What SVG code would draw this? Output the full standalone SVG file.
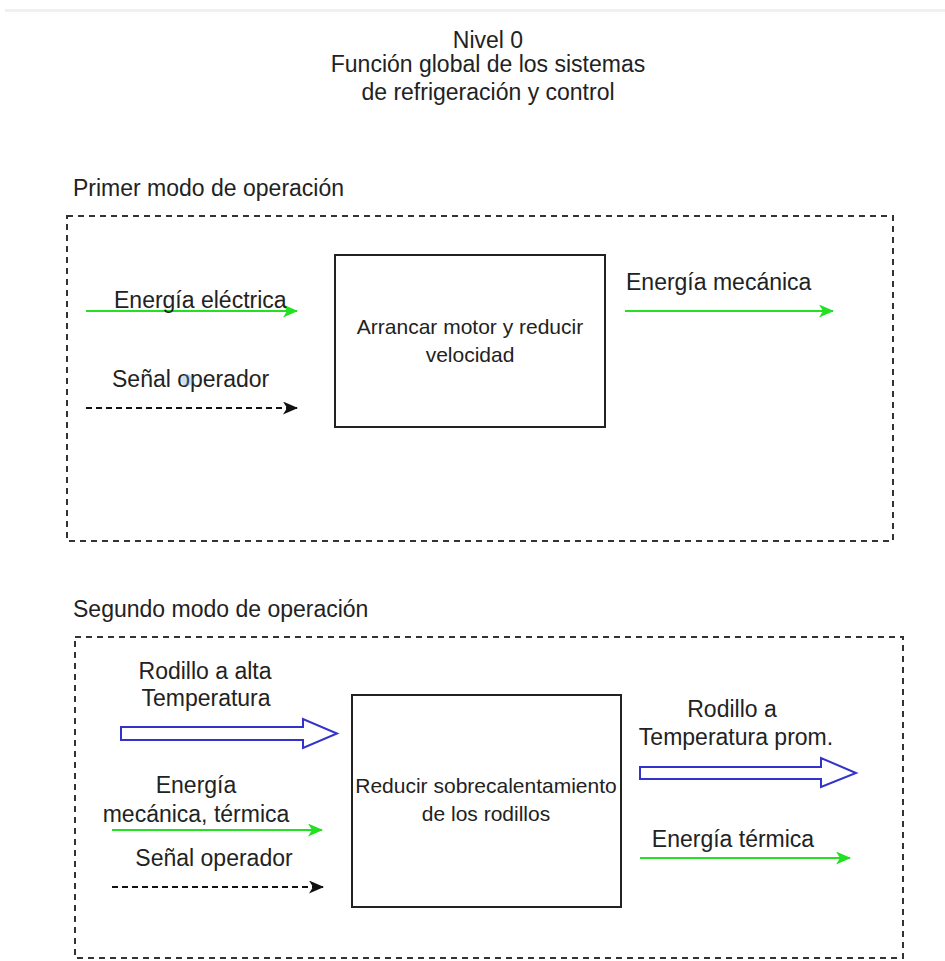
<svg xmlns="http://www.w3.org/2000/svg" width="945" height="961" viewBox="0 0 945 961">
  <style>
    text { font-family: "Liberation Sans", Arial, sans-serif; fill: #222; }
    .title { font-size: 23px; text-anchor: middle; }
    .section { font-size: 23px; }
    .label { font-size: 23px; }
    .box-text { font-size: 21px; text-anchor: middle; }
    .frame { fill: none; stroke: #333; stroke-width: 2; stroke-dasharray: 6 5; }
    .box { fill: #fff; stroke: #222; stroke-width: 2; }
    .energy { fill: none; stroke: #22e022; stroke-width: 2; marker-end: url(#green-head); }
    .signal { fill: none; stroke: #111; stroke-width: 2; stroke-dasharray: 6 4; marker-end: url(#black-head); }
    .material { fill: #fff; stroke: #3333cc; stroke-width: 2; stroke-linejoin: miter; }
  </style>
  <defs>
    <marker id="green-head" viewBox="0 0 15 13" refX="14" refY="6.5" markerWidth="15" markerHeight="13" markerUnits="userSpaceOnUse" orient="auto">
      <path d="M0,0 L15,6.5 L0,13 L4,6.5 Z" fill="#22e022"/>
    </marker>
    <marker id="black-head" viewBox="0 0 15 13" refX="14" refY="6.5" markerWidth="15" markerHeight="13" markerUnits="userSpaceOnUse" orient="auto">
      <path d="M0,0 L15,6.5 L0,13 L4,6.5 Z" fill="#111"/>
    </marker>
  </defs>

  <rect width="945" height="961" fill="#fff"/>
  <rect x="5" y="9" width="940" height="3" fill="#f0f0f0"/>

  <!-- heading -->
  <g id="heading">
    <text class="title" x="488" y="48">Nivel 0</text>
    <text class="title" x="488" y="72">Función global de los sistemas</text>
    <text class="title" x="488" y="100">de refrigeración y control</text>
  </g>

  <!-- first operating mode -->
  <g id="mode-1">
    <text class="section" x="73" y="196">Primer modo de operación</text>
    <rect class="frame" x="67" y="216" width="826" height="325"/>
  </g>

  <g id="start-motor">
    <rect class="box" x="335" y="255" width="270" height="172"/>
    <text class="box-text" x="470" y="334">Arrancar motor y reducir</text>
    <text class="box-text" x="470" y="362">velocidad</text>
  </g>

  <!-- second operating mode -->
  <g id="mode-2">
    <text class="section" x="73" y="617">Segundo modo de operación</text>
    <rect class="frame" x="75" y="637" width="828" height="321"/>
  </g>

  <g id="reduce-overheat">
    <rect class="box" x="352" y="695" width="269" height="212"/>
    <text class="box-text" x="486" y="793">Reducir sobrecalentamiento</text>
    <text class="box-text" x="486" y="821">de los rodillos</text>
  </g>

  <!-- flows -->
  <g id="connectors">
    <line class="energy" x1="86" y1="311" x2="297" y2="311"/>
    <line class="signal" x1="86" y1="408" x2="297" y2="408"/>
    <line class="energy" x1="625" y1="311" x2="833" y2="311"/>

    <polygon class="material" points="121,727 303,727 303,719 337,733.5 303,748 303,740 121,740"/>
    <line class="energy" x1="112" y1="830" x2="322" y2="830"/>
    <line class="signal" x1="112" y1="887" x2="323" y2="887"/>

    <polygon class="material" points="640,767 821,767 821,758 856,773 821,787 821,779 640,779"/>
    <line class="energy" x1="640" y1="858" x2="850" y2="858"/>
  </g>

  <!-- flow labels -->
  <g id="flow-labels">
    <text class="label" x="114" y="308">Energía eléctrica</text>
    <text class="label" x="112" y="387">Señal operador</text>
    <circle cx="187" cy="380" r="6" fill="#5b9bd5" opacity="0.3"/>
    <text class="label" x="626" y="290">Energía mecánica</text>

    <text class="label" x="205" y="679" text-anchor="middle">Rodillo a alta</text>
    <text class="label" x="206" y="706" text-anchor="middle">Temperatura</text>
    <text class="label" x="196" y="793" text-anchor="middle">Energía</text>
    <text class="label" x="196" y="822" text-anchor="middle">mecánica, térmica</text>
    <text class="label" x="214" y="866" text-anchor="middle">Señal operador</text>

    <text class="label" x="732" y="717" text-anchor="middle">Rodillo a</text>
    <text class="label" x="736" y="745" text-anchor="middle">Temperatura prom.</text>
    <text class="label" x="733" y="847" text-anchor="middle">Energía térmica</text>
  </g>
</svg>
